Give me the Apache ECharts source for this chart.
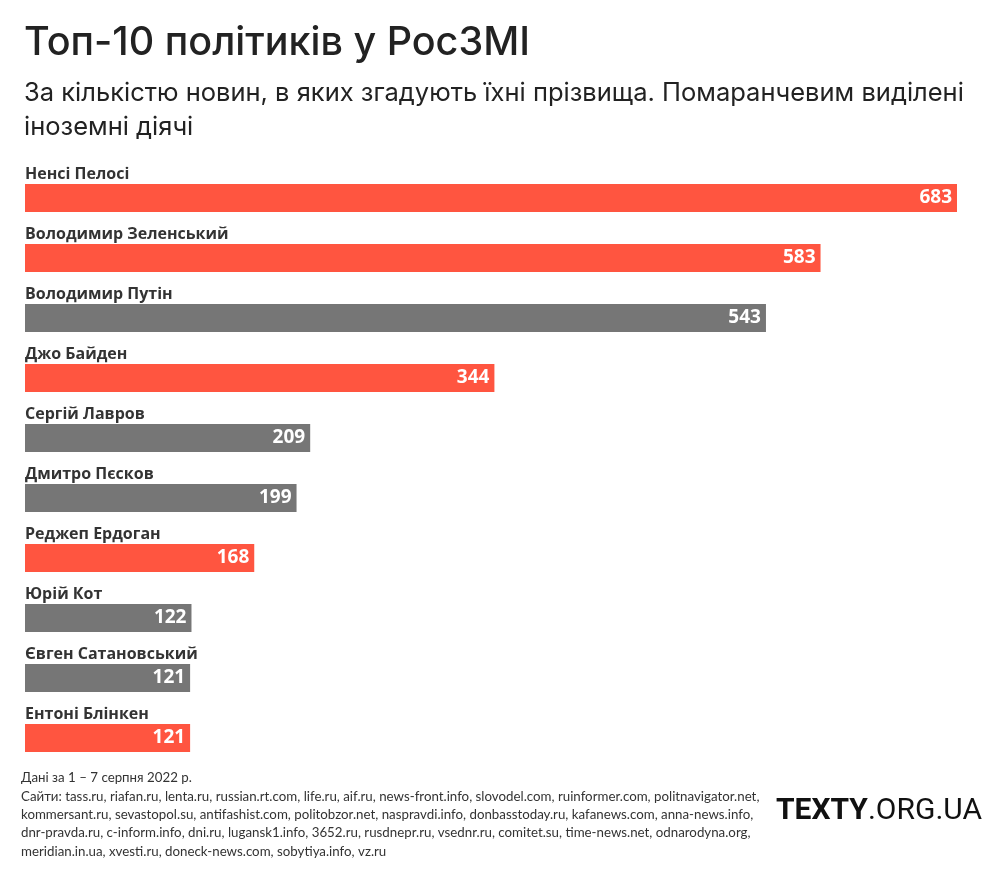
<!DOCTYPE html>
<html><head><meta charset="utf-8">
<script src="https://cdn.jsdelivr.net/npm/echarts@6/dist/echarts.min.js"></script>
<style>html,body{margin:0;padding:0;background:#fff}#c{width:1000px;height:875px}</style>
</head><body><div id="c"></div>
<script>
const names = ['Ненсі Пелосі','Володимир Зеленський','Володимир Путін','Джо Байден','Сергій Лавров','Дмитро Пєсков','Реджеп Ердоган','Юрій Кот','Євген Сатановський','Ентоні Блінкен'];
const values = [683,583,543,344,209,199,168,122,121,121];
const foreign = [true,true,false,true,false,false,true,false,false,true];
const titleText = 'Топ-10 політиків у РосЗМІ';
const subtitleText = 'За кількістю новин, в яких згадують їхні прізвища. Помаранчевим виділені\nіноземні діячі';
const footerText = 'Дані за 1 – 7 серпня 2022 р.\nСайти: tass.ru, riafan.ru, lenta.ru, russian.rt.com, life.ru, aif.ru, news-front.info, slovodel.com, ruinformer.com, politnavigator.net,\nkommersant.ru, sevastopol.su, antifashist.com, politobzor.net, naspravdi.info, donbasstoday.ru, kafanews.com, anna-news.info,\ndnr-pravda.ru, c-inform.info, dni.ru, lugansk1.info, 3652.ru, rusdnepr.ru, vsednr.ru, comitet.su, time-news.net, odnarodyna.org,\nmeridian.in.ua, xvesti.ru, doneck-news.com, sobytiya.info, vz.ru';

const ORANGE = '#FF5540', GRAY = '#767676';
const chart = echarts.init(document.getElementById('c'), null, {renderer:'canvas'});
chart.setOption({
  backgroundColor:'#fff',
  animation:false,
  title:[
    {text:titleText, left:19, top:18, textStyle:{fontFamily:'Inter', fontSize:39.5, fontWeight:500, color:'#222'}},
    {text:subtitleText, left:19, top:72, textStyle:{fontFamily:'Inter', fontSize:25.5, fontWeight:'normal', color:'#222', lineHeight:33.5}},
    {text:footerText, left:16, top:764, textStyle:{fontFamily:'Lato', fontSize:13.3, fontWeight:'normal', color:'#333', lineHeight:18.3}}
  ],
  graphic:[{
    type:'text', left:776, top:796,
    style:{text:'{a|TEXTY}{b|.ORG.UA}', rich:{
      a:{fontFamily:'Roboto', fontWeight:'bold', fontSize:30, fill:'#111'},
      b:{fontFamily:'Roboto', fontWeight:'normal', fontSize:30, fill:'#111'}
    }}
  }],
  grid:{left:25, right:43, top:168, bottom:107, containLabel:false},
  xAxis:{type:'value', min:0, max:683, show:false},
  yAxis:{type:'category', data:names, inverse:true,
    axisLine:{show:false}, axisTick:{show:false}, splitLine:{show:false},
    axisLabel:{inside:true, margin:0, align:'left', verticalAlign:'bottom', padding:[0,0,16,0],
      fontFamily:'Open Sans', fontWeight:'bold', fontSize:16, color:'#333'}
  },
  series:[{
    type:'bar', barWidth:28,
    data: values.map((v,i)=>({value:v, itemStyle:{color: foreign[i]?ORANGE:GRAY}})),
    label:{show:true, position:'insideRight', distance:5, color:'#fff', fontFamily:'Open Sans', fontWeight:'bold', fontSize:19}
  }]
});
</script></body></html>
